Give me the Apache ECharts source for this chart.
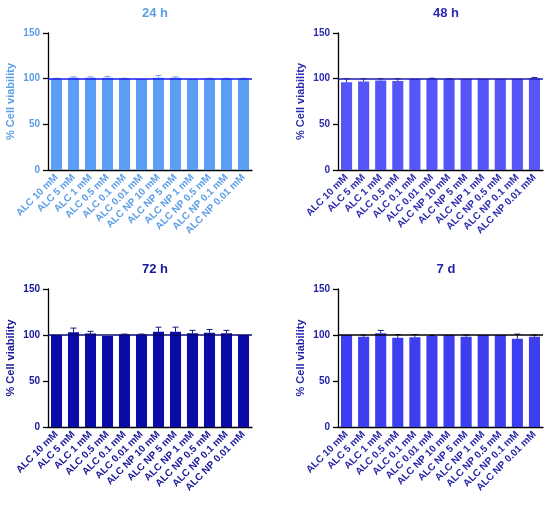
<!DOCTYPE html>
<html>
<head>
<meta charset="utf-8">
<script src="https://cdn.jsdelivr.net/npm/echarts@6/dist/echarts.min.js"></script>
<style>
  html, body { margin: 0; padding: 0; background: #fff; }
  #chart { width: 550px; height: 506px; }
</style>
</head>
<body>
<div id="chart"></div>
<script>
// categories
var categories = ['ALC 10 mM', 'ALC 5 mM', 'ALC 1 mM', 'ALC 0.5 mM', 'ALC 0.1 mM', 'ALC 0.01 mM',
    'ALC NP 10 mM', 'ALC NP 5 mM', 'ALC NP 1 mM', 'ALC NP 0.5 mM', 'ALC NP 0.1 mM', 'ALC NP 0.01 mM'];
var panelTitles = ['24 h', '48 h', '72 h', '7 d'];

// mean % viability per panel
var mean24h = [100, 101, 101, 101, 100, 99.5, 101, 101, 99.5, 100, 100, 100];
var mean48h = [96, 97, 98, 97.5, 100, 100, 99.5, 100, 100, 100, 100, 100.5];
var mean72h = [100, 103, 101.5, 99, 100.5, 100.5, 103.5, 103.5, 102, 102.5, 102, 100];
var mean7d = [100, 98, 102, 97, 97.5, 99, 100, 98, 100, 100, 96, 98];

// upper error (SD)
var err24h = [0.5, 1, 1, 1.5, 0.5, 0, 2.5, 1, 0, 0.5, 0.5, 0.5];
var err48h = [4, 3, 2, 2.5, 0, 0.5, 0.5, 0.3, 0, 0, 0.3, 0.8];
var err72h = [0, 4.5, 2.5, 0, 0.5, 0.5, 5, 5, 3, 3.5, 3, 0];
var err7d = [0, 2, 3, 3.5, 3, 0.5, 0, 2, 0, 0, 5, 2];

var yMin = 0, yMax = 150, yStep = 50;

var means = [mean24h, mean48h, mean72h, mean7d];
var errs = [err24h, err48h, err72h, err7d];

// panel looks
var barColors = ['#5a9ff4', '#5656f6', '#0b0ba9', '#3e3ef1'];
var textColors = ['#5b9de6', '#2a2ab0', '#16169a', '#1f1fa8'];
var refColors = ['#1a1aee', '#1c1cb0', '#0a0a70', '#000000'];
var errColors = ['#7fa6d6', '#2a2a90', '#1a1a80', '#1a1a80'];
var grids = [
    {left: 48, top: 33, width: 204, height: 137},
    {left: 338, top: 33, width: 205, height: 137},
    {left: 48, top: 289, width: 204, height: 138},
    {left: 338, top: 289, width: 205, height: 138}
];
var titlePos = [{left: 150, top: 2}, {left: 441, top: 2}, {left: 150, top: 258}, {left: 441, top: 258}];

var font = 'Liberation Sans, Arial, sans-serif';

var option = {
    animation: false,
    backgroundColor: '#fff',
    title: [],
    grid: [],
    xAxis: [],
    yAxis: [],
    series: []
};

for (var i = 0; i < 4; i++) {
    option.title.push({
        text: panelTitles[i],
        left: titlePos[i].left,
        top: titlePos[i].top,
        textAlign: 'center',
        textStyle: {color: textColors[i], fontSize: 13, fontWeight: 'bold', fontFamily: font}
    });
    option.grid.push(grids[i]);
    option.xAxis.push({
        type: 'category',
        gridIndex: i,
        data: categories,
        axisLine: {lineStyle: {color: '#000', width: 1.3}},
        axisTick: {alignWithLabel: true, length: 4, lineStyle: {color: '#000', width: 1.2}},
        axisLabel: {
            rotate: 45, interval: 0, margin: 6,
            color: textColors[i], fontSize: 10, fontWeight: 'bold', fontFamily: font
        }
    });
    option.yAxis.push({
        type: 'value',
        gridIndex: i,
        min: yMin, max: yMax, interval: yStep,
        name: '% Cell viability',
        nameLocation: 'middle',
        nameGap: 32,
        nameTextStyle: {color: textColors[i], fontSize: 11, fontWeight: 'bold', fontFamily: font},
        splitLine: {show: false},
        axisLine: {show: true, lineStyle: {color: '#000', width: 1.3}},
        axisTick: {show: true, inside: false, length: 5, lineStyle: {color: '#000000', width: 1.3}},
        axisLabel: {
            show: true, inside: false,
            color: textColors[i], fontSize: 10, fontWeight: 'bold', fontFamily: font, margin: 8
        }
    });
    option.series.push({
        type: 'bar',
        xAxisIndex: i,
        yAxisIndex: i,
        data: means[i],
        barWidth: '65%',
        itemStyle: {color: barColors[i]},
        markLine: {
            silent: true,
            symbol: 'none',
            label: {show: false},
            lineStyle: {color: refColors[i], width: 1.5, type: 'solid'},
            data: [{yAxis: 100}]
        },
        z: 2
    });
    // upper error bars
    var errData = [];
    for (var k = 0; k < categories.length; k++) {
        errData.push([k, means[i][k], means[i][k] + errs[i][k]]);
    }
    option.series.push({
        type: 'custom',
        xAxisIndex: i,
        yAxisIndex: i,
        data: errData,
        z: 3,
        renderItem: (function (col) {
            return function (params, api) {
                var lo = api.coord([api.value(0), api.value(1)]);
                var hi = api.coord([api.value(0), api.value(2)]);
                if (Math.abs(lo[1] - hi[1]) < 0.3) {
                    return null;
                }
                var cap = 3;
                var style = {stroke: col, lineWidth: 1};
                return {
                    type: 'group',
                    children: [
                        {type: 'line', shape: {x1: lo[0], y1: lo[1], x2: hi[0], y2: hi[1]}, style: style},
                        {type: 'line', shape: {x1: hi[0] - cap, y1: hi[1], x2: hi[0] + cap, y2: hi[1]}, style: style}
                    ]
                };
            };
        })(errColors[i])
    });
}

var chart = echarts.init(document.getElementById('chart'));
chart.setOption(option);
</script>
</body>
</html>
